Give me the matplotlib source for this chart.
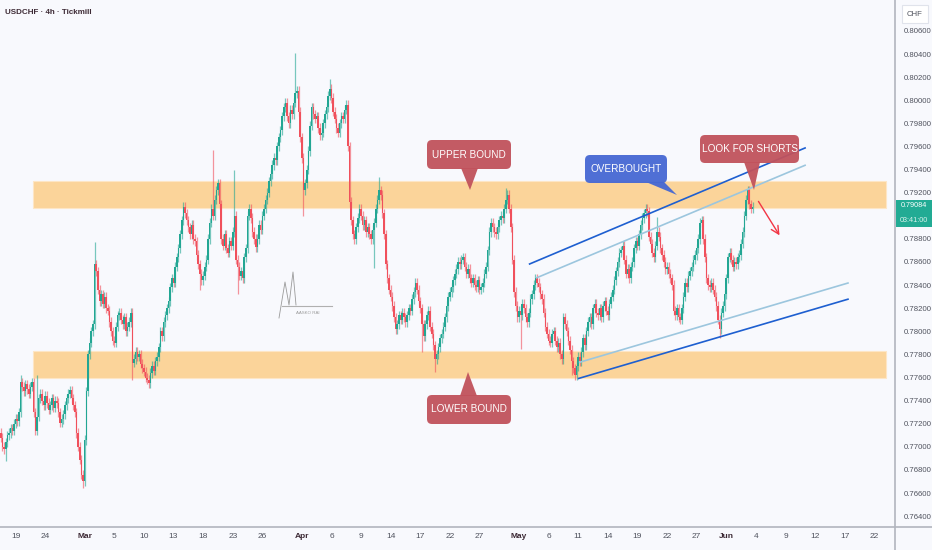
import matplotlib
matplotlib.use("Agg")
import matplotlib.pyplot as plt
from matplotlib.transforms import Affine2D, blended_transform_factory
from matplotlib.patches import FancyBboxPatch, Polygon, Rectangle
from matplotlib.lines import Line2D

plt.rcParams['font.family'] = ['Liberation Sans', 'DejaVu Sans']

# USDCHF 4h closes in pips (0.0001), six bars per trading day
closes = [
    7708, 7700, 7698, 7704, 7710, 7712,
    7716, 7714, 7720, 7724, 7722, 7730,
    7756, 7752, 7748, 7754, 7750, 7746,
    7752, 7756, 7730, 7714, 7726, 7742,
    7746, 7740, 7736, 7744, 7738, 7732,
    7736, 7742, 7734, 7740, 7738, 7730,
    7721, 7724, 7728, 7736, 7742, 7746,
    7749, 7742, 7736, 7730, 7712, 7700,
    7689, 7676, 7670, 7706, 7748, 7780,
    7790, 7800, 7806, 7858, 7852, 7836,
    7826, 7832, 7824, 7830, 7820, 7818,
    7808, 7800, 7792, 7790, 7804, 7814,
    7816, 7810, 7806, 7812, 7800, 7804,
    7808, 7816, 7773, 7776, 7782, 7778,
    7780, 7772, 7768, 7765, 7760, 7758,
    7755, 7764, 7770, 7766, 7774, 7778,
    7786, 7800, 7796, 7808, 7814, 7820,
    7826, 7838, 7846, 7842, 7856, 7864,
    7872, 7884, 7896, 7908, 7902, 7896,
    7890, 7884, 7892, 7880, 7878, 7866,
    7858, 7850, 7844, 7848, 7856, 7862,
    7880, 7894, 7906, 7900, 7914, 7922,
    7928, 7910, 7880, 7874, 7884, 7872,
    7868, 7878, 7874, 7886, 7900, 7862,
    7856, 7848, 7852, 7846, 7864, 7872,
    7900, 7906, 7898, 7886, 7880, 7873,
    7880, 7892, 7888, 7900, 7906, 7914,
    7920, 7930, 7936, 7944, 7950, 7948,
    7960, 7968, 7974, 7986, 7994, 7998,
    7986, 7980, 7992, 7988, 7998, 8006,
    8008, 7990, 7968, 7950, 7922, 7928,
    7940, 7956, 7978, 7994, 7988, 7984,
    7986, 7976, 7970, 7972, 7980, 7988,
    7994, 8004, 8010, 8002, 7990, 7984,
    7976, 7972, 7980, 7986, 7984, 7992,
    7996, 7960, 7912, 7896, 7884, 7880,
    7890, 7898, 7906, 7900, 7892, 7896,
    7886, 7890, 7884, 7880, 7888, 7894,
    7906, 7914, 7922, 7918, 7902, 7884,
    7858, 7846, 7836, 7830, 7822, 7812,
    7802, 7806, 7814, 7810, 7816, 7812,
    7808, 7814, 7820, 7818, 7828, 7834,
    7842, 7836, 7826, 7820, 7806, 7796,
    7806, 7814, 7818, 7804, 7798, 7788,
    7776, 7780, 7786, 7794, 7798, 7804,
    7812, 7822, 7830, 7834, 7838, 7844,
    7850, 7854, 7860, 7858, 7862, 7864,
    7856, 7850, 7854, 7846, 7842, 7846,
    7840, 7838, 7844, 7836, 7838, 7842,
    7850, 7856, 7870, 7886, 7894, 7890,
    7886, 7884, 7890, 7896, 7900, 7898,
    7906, 7914, 7918, 7906, 7890, 7862,
    7834, 7822, 7812, 7818, 7814, 7824,
    7820, 7812, 7808, 7816, 7828, 7832,
    7840, 7846, 7842, 7838, 7832, 7828,
    7816, 7804, 7798, 7792, 7790, 7798,
    7800, 7792, 7786, 7790, 7780, 7776,
    7812, 7806, 7800, 7792, 7784, 7774,
    7768, 7762, 7770, 7778, 7774, 7782,
    7794, 7788, 7800, 7808, 7812, 7806,
    7820, 7824, 7816, 7814, 7820, 7812,
    7822, 7826, 7818, 7814, 7824, 7830,
    7836, 7844, 7852, 7860, 7868, 7870,
    7874, 7862, 7850, 7854, 7846, 7856,
    7860, 7872, 7878, 7874, 7884, 7892,
    7898, 7902, 7906, 7904, 7882, 7876,
    7868, 7864, 7874, 7886, 7882, 7872,
    7866, 7860, 7854, 7856, 7850, 7846,
    7840, 7818, 7814, 7820, 7812, 7810,
    7820, 7830, 7842, 7838, 7848, 7852,
    7856, 7862, 7866, 7872, 7880, 7894,
    7896, 7880, 7864, 7846, 7840, 7838,
    7842, 7836, 7830, 7822, 7810, 7802,
    7816, 7822, 7832, 7846, 7864, 7868,
    7862, 7856, 7860, 7858, 7864, 7866,
    7876, 7886, 7900, 7914, 7922, 7910,
    7906, 7908,
]
first_open = 7712
wick = 4
spike_highs = {12: 7762, 22: 7762, 57: 7877, 129: 7957, 142: 7940, 179: 8041,
               200: 8018, 230: 7934, 307: 7924, 392: 7910, 399: 7899, 454: 7926}
spike_lows = {3: 7688, 50: 7664, 80: 7758, 121: 7836, 144: 7832, 184: 7900,
              227: 7855, 256: 7782, 264: 7765, 316: 7785, 347: 7762, 349: 7758, 437: 7794}

upper_band = (0.7907, 0.7930)
lower_band = (0.7760, 0.7783)
band_span = (19.5, 538)

# channel lines: (bar, price) end points
channel_dark_top = [(321, 0.7858), (489.4, 0.7959)]
channel_light_top = [(325.2, 0.7846), (489.4, 0.7944)]
channel_light_bottom = [(351.4, 0.7773), (515.5, 0.7842)]
channel_dark_bottom = [(350.8, 0.7759), (515.5, 0.7828)]
short_arrow = [(459.7, 0.79145), (474.3, 0.7881)]

date_labels = ['19', '24', 'Mar', '5', '10', '13', '18', '23', '26', 'Apr', '6', '9', '14', '17',
               '22', '27', 'May', '6', '11', '14', '19', '22', '27', 'Jun', '4', '9', '12', '17', '22']
date_days = [0, 3, 7, 10, 13, 16, 19, 22, 25, 29, 32, 35, 38, 41,
             44, 47, 51, 54, 57, 60, 63, 66, 69, 72, 75, 78, 81, 84, 87]
first_day_bar = 9
bars_per_day = 6

# 0.79000 is hidden behind the last-price label
price_ticks = [0.764, 0.766, 0.768, 0.770, 0.772, 0.774, 0.776, 0.778, 0.780, 0.782, 0.784,
               0.786, 0.788, 0.792, 0.794, 0.796, 0.798, 0.800, 0.802, 0.804, 0.806]
last_price = 0.79084
countdown = '03:41:00'

UP = '#22a693'
DOWN = '#f0505c'
BG = '#f8f9fd'

opens = [first_open] + closes[:-1]
idx = list(range(len(closes)))
highs, lows, bottoms, heights, colors = [], [], [], [], []
for i, (o, c) in enumerate(zip(opens, closes)):
    hi = spike_highs.get(i, max(o, c) + wick)
    lo = spike_lows.get(i, min(o, c) - wick)
    highs.append(hi / 10000)
    lows.append(lo / 10000)
    bottoms.append(min(o, c) / 10000)
    heights.append(max(abs(c - o), 0.8) / 10000)
    colors.append(UP if c >= o else DOWN)

fig = plt.figure(figsize=(9.32, 5.5), dpi=100)
fig.patch.set_facecolor(BG)
ax = fig.add_axes([0, 23 / 550, 895 / 932, 527 / 550])
ax.set_facecolor(BG)
ax.set_xlim(-0.49, 543.6)
ax.set_ylim(0.76306, 0.80868)
for s in ax.spines.values():
    s.set_visible(False)

for band in (upper_band, lower_band):
    ax.add_patch(Rectangle((band_span[0], band[0]), band_span[1] - band_span[0], band[1] - band[0],
                           facecolor='#fbd49a', edgecolor='#fde6c6', lw=0.8, zorder=0))

ax.vlines(idx, lows, highs, colors=colors, linewidth=0.9, alpha=0.6, zorder=2)
ax.bar(idx, heights, bottom=bottoms, width=0.95, color=colors, linewidth=0, zorder=3)

for line, col in ((channel_dark_top, '#1e5fd0'), (channel_dark_bottom, '#1e5fd0'),
                  (channel_light_top, '#9cc6de'), (channel_light_bottom, '#9cc6de')):
    ax.plot([p[0] for p in line], [p[1] for p in line], color=col, lw=1.2, zorder=4,
            solid_capstyle='butt')

ax.annotate('', xy=short_arrow[1], xytext=short_arrow[0],
            arrowprops=dict(arrowstyle='->', color='#f23645', lw=1.0, mutation_scale=14), zorder=5)

ax.yaxis.tick_right()
ax.set_yticks(price_ticks)
ax.set_yticklabels(['%.5f' % p for p in price_ticks])
ax.tick_params(axis='y', length=0, pad=6, labelsize=5.6, labelcolor='#50535e')
ax.set_xticks([first_day_bar + bars_per_day * d for d in date_days])
ax.set_xticklabels(date_labels)
ax.tick_params(axis='x', length=0, pad=4, labelsize=6, labelcolor='#50535e')
for lab in ax.get_xticklabels():
    if lab.get_text() in ('Mar', 'Apr', 'May', 'Jun'):
        lab.set_fontweight('bold')
        lab.set_color('#3d2a35')

# pixel overlay, y measured from the top
px = Affine2D().scale(1 / 932, -1 / 550).translate(0, 1) + fig.transFigure
fig.add_artist(Line2D([0, 932], [527, 527], transform=px, color='#b2b5be', lw=1.2))
fig.add_artist(Line2D([895, 895], [0, 550], transform=px, color='#b2b5be', lw=1.2))

fig.text(5, 13, 'USDCHF · 4h · Tickmill', transform=px, fontsize=5.8, color='#3d2a35',
         fontweight='bold', va='center', ha='left')

fig.add_artist(Rectangle((902, 5), 26, 18, transform=px, facecolor='white', edgecolor='#e0e3eb', lw=0.8))
fig.text(915, 14, 'CHF', transform=px, fontsize=5.6, color='#50535e', ha='center', va='center')

py = blended_transform_factory(px, ax.transData)
fig.add_artist(Rectangle((896, last_price - 0.00180), 36, 0.00236, transform=py,
                         facecolor='#22ab94', edgecolor='none'))
fig.text(914, last_price + 0.00004, '%.5f' % last_price, transform=py, fontsize=5.2, color='white',
         ha='center', va='center')
fig.text(914, last_price - 0.00122, countdown, transform=py, fontsize=5.2, color='#d8f2ec',
         ha='center', va='center')

callouts = [
    ('UPPER BOUND', '#c1525c', (427, 140, 84, 29), [(461, 168), (478, 168), (470, 190)]),
    ('LOWER BOUND', '#c1525c', (427, 395, 84, 29), [(460, 396), (477, 396), (468, 372)]),
    ('OVERBOUGHT', '#4668d3', (585, 155, 82, 28), [(646, 182), (664, 182), (677, 195)]),
    ('LOOK FOR SHORTS', '#c1525c', (700, 135, 99, 28), [(744, 162), (760, 162), (754, 190)]),
]
px_up = Affine2D().scale(1 / 932, 1 / 550) + fig.transFigure
for text, col, (x, y, w, h), tip in callouts:
    fig.add_artist(FancyBboxPatch((x, 550 - y - h), w, h, boxstyle='round,pad=0,rounding_size=5',
                                  transform=px_up, facecolor=col, edgecolor='none', alpha=0.95))
    fig.add_artist(Polygon([(a, 550 - b) for a, b in tip], closed=True, transform=px_up,
                           facecolor=col, edgecolor='none', alpha=0.95))
    fig.text(x + w / 2, y + h / 2, text, transform=px, fontsize=7.2, color='white',
             ha='center', va='center')

# faint signature
fig.add_artist(Line2D([279, 285, 289, 293, 296], [318, 282, 305, 272, 305], transform=px,
                      color='#9a9a9a', lw=0.6))
fig.add_artist(Line2D([282, 332], [306, 306], transform=px, color='#b0b0b0', lw=0.8))
fig.text(296, 313, 'AASKO RAI', transform=px, fontsize=3.2, color='#9a9a9a', va='center')

fig.savefig('out.png', dpi=100, facecolor=BG)
